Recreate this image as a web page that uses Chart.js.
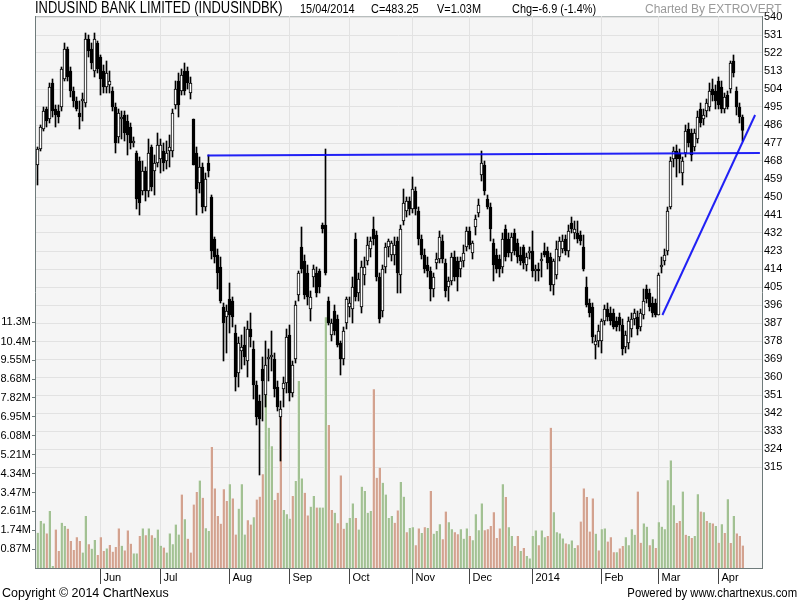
<!DOCTYPE html>
<html>
<head>
<meta charset="utf-8">
<title>INDUSINDBK</title>
<script src="https://cdn.jsdelivr.net/npm/chart.js@4.4.1/dist/chart.umd.min.js"></script>
<style>
  html, body { margin: 0; padding: 0; background: #fff; }
  #wrap { position: relative; width: 800px; height: 600px; overflow: hidden; }
  #wrap canvas { position: absolute; left: 0; top: 0; }
  .txt {
    position: absolute; white-space: nowrap; color: #000;
    font-family: "Liberation Sans", Arial, sans-serif;
    font-size: 13px; line-height: 15px;
    transform-origin: 0 0;
  }
  #title { left: 35px; top: -1px; font-size: 16px; line-height: 18px; transform: scaleX(0.807); }
  .hd { top: 1px; transform: scaleX(0.84); }
  #by { color: #9a9a9a; font-size: 12px; transform: none; top: 2px; }
  #copy { left: 2px; top: 585px; transform: scaleX(0.96); }
  #powered { right: 3px; top: 585px; transform-origin: 100% 0; transform: scaleX(0.87); }
</style>
</head>
<body>
<div id="wrap">
  <canvas id="chart" width="800" height="600"></canvas>
  <div class="txt" id="title">INDUSIND BANK LIMITED (INDUSINDBK)</div>
  <div class="txt hd" style="left:300px">15/04/2014</div>
  <div class="txt hd" style="left:371px">C=483.25</div>
  <div class="txt hd" style="left:437px">V=1.03M</div>
  <div class="txt hd" style="left:512px">Chg=-6.9 (-1.4%)</div>
  <div class="txt" id="by" style="left:645px">Charted By EXTROVERT</div>
  <div class="txt" id="copy">Copyright © 2014 ChartNexus</div>
  <div class="txt" id="powered">Powered by www.chartnexus.com</div>
</div>
<script>
// daily candles, 2 May 2013 .. 15 Apr 2014 (one slot per trading day)
const open = [
  466,474,484,494,489,507,494,493,495,509, 524,513,503,498,492,498,497,529,524,513,
  527,520,513,505,506,503,495,480,489,491, 488,485,477,472,468,453,463,453,475,463,
  467,469,473,468,473,473,496,508,503,513, 513,502,489,472,457,465,445,467,450,429,
  421,415,395,390,399,398,382,362,373,376, 368,384,374,356,348,364,351,369,370,369,
  355,340,354,357,381,352,369,401,425,418, 412,394,410,412,413,436,436,398,381,393,
  389,377,369,387,395,394,429,402,395,411, 418,424,434,431,410,393,415,425,421,421,
  428,411,438,443,448,444,453,443,429,421, 416,413,404,417,419,428,417,405,408,420,
  418,414,418,425,433,422,435,442,461,466, 449,445,427,421,419,415,434,429,422,432,
  427,421,425,416,422,423,413,414,418,423, 423,420,406,411,420,424,429,423,437,432,
  432,431,425,405,397,395,376,378,378,388, 394,392,392,388,390,386,375,377,384,389,
  390,385,391,404,402,397,397,391,415,418, 423,445,469,473,472,462,472,484,482,475,
  479,494,489,493,495,504,503,508,505,494, 501,504,518,503,495,490
];
const high = [
  475,486,495,495,507,509,496,496,515,527, 525,515,505,500,498,502,532,531,527,532,
  528,521,516,518,513,505,497,494,493,493, 491,487,480,473,470,468,465,479,476,471,
  482,479,477,478,481,494,508,512,514,517, 515,510,489,475,470,467,462,471,451,430,
  424,420,397,396,407,400,386,380,381,385, 388,392,378,358,351,370,378,374,383,372,
  358,348,360,384,386,368,398,413,435,421, 416,403,416,415,414,437,474,400,389,396,
  391,378,385,400,400,410,432,412,418,420, 430,430,440,433,412,416,427,429,428,430,
  430,436,454,450,450,460,455,445,431,424, 420,415,412,422,433,431,419,410,422,423,
  420,420,426,435,435,428,441,449,473,468, 451,447,429,424,421,432,436,432,432,434,
  429,425,426,422,425,433,416,417,422,427, 425,422,419,428,430,431,431,436,440,438,
  438,433,431,410,399,397,381,386,389,396, 397,395,394,390,392,389,383,390,392,394,
  393,394,404,406,404,400,399,412,420,424, 445,470,475,476,474,470,486,487,484,484,
  493,497,494,499,507,509,506,510,508,502, 503,518,521,505,497,491
];
const low = [
  456,473,483,485,487,490,485,487,493,508, 508,500,495,493,484,488,495,520,514,510,
  512,501,502,502,502,493,472,477,479,478, 471,474,475,444,441,451,448,450,453,451,
  465,462,463,464,465,470,494,490,501,501, 504,499,466,441,452,442,443,460,419,417,
  404,397,368,372,382,385,353,355,364,366, 360,375,349,336,311,338,345,358,363,350,
  343,318,345,352,348,350,367,398,412,399, 396,388,405,400,402,432,411,386,378,381,
  375,361,366,384,390,387,398,398,392,406, 416,420,426,408,387,390,412,420,418,416,
  402,402,436,440,441,442,441,426,419,412, 410,398,400,414,417,417,400,398,406,408,
  403,410,415,423,424,419,431,440,458,451, 444,428,408,412,410,412,418,420,418,421,
  417,416,414,413,419,410,408,408,410,420, 414,403,401,409,418,422,421,420,432,429,
  427,426,413,395,390,377,369,375,372,386, 388,386,384,383,383,371,372,374,380,386,
  381,383,389,397,393,390,390,391,412,416, 421,444,465,460,462,456,470,475,468,473,
  477,485,486,490,493,498,494,494,492,492, 494,502,510,491,487,478
];
const close = [
  474,485,493,488,505,493,491,490,514,524, 510,503,498,494,490,499,529,523,517,529,
  514,509,505,512,508,495,477,492,490,482, 481,477,478,449,447,463,453,472,455,467,
  476,476,467,472,475,492,504,496,511,503, 507,507,466,454,465,445,459,463,423,420,
  412,398,387,393,391,390,360,377,375,370, 384,380,356,340,339,358,366,370,371,354,
  345,344,357,380,352,366,396,412,414,401, 400,400,414,402,405,434,412,387,387,383,
  376,369,383,399,397,405,400,409,415,415, 426,428,429,410,389,414,425,428,427,426,
  412,434,447,448,444,454,444,429,421,414, 413,404,410,419,430,419,403,408,420,410,
  410,418,422,433,426,427,439,446,467,453, 445,434,416,414,414,429,420,422,430,423,
  420,418,417,420,423,413,414,413,419,421, 417,406,418,424,428,428,423,433,434,434,
  429,428,414,396,392,380,378,383,388,394, 390,388,385,385,386,374,381,388,389,392,
  384,392,398,399,395,392,391,411,416,421, 443,468,473,469,469,468,483,477,471,482,
  490,487,491,497,503,501,498,496,494,500, 495,517,512,495,490.15,483.25
];
// volume in millions
const volume = [
  1.62,2.16,2.05,1.59,2.62,0.09,1.77,0.78,2.08,1.93, 1.81,1.24,0.83,1.42,1.24,0.71,2.39,1.09,0.89,1.29,
  0.60,1.42,0.78,0.90,1.06,0.75,0.97,1.82,1.02,0.81, 1.73,1.12,0.67,0.67,1.47,1.82,1.51,1.82,1.51,1.39,
  1.77,1.02,0.94,0.71,1.59,1.09,2.00,1.54,3.38,2.24, 1.35,0.71,2.92,3.50,4.02,3.23,1.83,1.70,5.56,3.66,
  2.39,2.04,3.62,3.08,3.85,3.20,1.54,2.73,3.85,1.54, 2.20,2.00,2.34,3.15,3.28,4.31,8.06,6.45,5.60,3.13,
  3.46,7.14,2.67,2.47,2.27,3.31,4.00,8.60,4.12,3.46, 2.42,2.82,3.31,2.78,2.78,2.78,11.53,6.58,2.67,2.54,
  2.06,4.26,1.81,2.08,2.30,2.97,2.30,1.77,3.74,3.54, 2.54,2.62,8.22,4.15,4.61,3.92,3.38,2.30,2.39,2.08,
  2.65,3.95,3.28,1.65,1.84,1.87,1.05,1.82,1.61,1.87, 1.84,3.54,1.58,1.70,2.01,1.32,2.60,2.11,1.78,1.65,
  1.55,1.78,1.35,1.82,1.47,1.28,2.47,1.74,2.97,1.74, 1.78,1.93,2.57,1.38,1.82,3.85,3.26,1.88,1.47,1.01,
  1.47,0.78,0.92,0.55,0.44,1.47,1.73,1.05,1.73,1.42, 1.47,6.45,2.57,1.65,1.59,1.36,1.13,1.09,1.27,0.92,
  1.05,2.14,3.66,3.26,1.68,3.20,1.58,0.81,1.78,1.82, 1.22,1.41,0.73,0.73,0.90,1.01,1.41,1.05,1.78,1.53,
  3.52,1.16,2.05,1.90,1.05,1.32,0.92,2.11,1.90,1.78, 4.04,4.95,2.89,2.07,2.16,3.52,1.53,1.47,1.38,1.47,
  3.39,2.60,2.57,2.16,2.08,2.05,1.93,1.16,2.01,1.61, 3.16,1.15,2.39,1.59,1.47,1.03
];
// g = green volume bar, r = red volume bar
const volDir =
  "gggrggrrgg" + "rrrrrggrgg" + "rrrgrrrrgr" + "rrggrgrgrg" + "ggrgggggrg" +
  "rrrrgrggrr" + "rrrrgrrggg" + "rrgrrrgggr" + "rrgggrgggr" + "rggrgggrrg" +
  "rrrgggrggg" + "ggrrrggggr" + "rggrggrrgr" + "grgggrrggr" + "rgggrggggr" +
  "rrrrrgrggr" + "rgrggggrgg" + "rrggggrggg" + "rrrrrrgrgg" + "rrrgrrgggg" +
  "rrggrgrggg" + "gggrrgrgrg" + "grgrgrgrgr" + "grgrrr";

const monthNames = ["Jun", "Jul", "Aug", "Sep", "Oct", "Nov", "Dec", "2014", "Feb", "Mar", "Apr"];
const monthStart = [21, 41, 64, 84, 104, 125, 144, 165, 188, 207, 227];
const priceTicks = [315, 324, 333, 342, 351, 360, 369, 378, 387, 396, 405, 414, 423, 432,
                    441, 450, 459, 468, 477, 486, 495, 504, 513, 522, 531, 540];
const volTicks = [0.87, 1.74, 2.61, 3.47, 4.34, 5.21, 6.08, 6.95, 7.82, 8.68, 9.55, 10.4, 11.3];
const volTickLabels = ["0.87M", "1.74M", "2.61M", "3.47M", "4.34M", "5.21M", "6.08M",
                       "6.95M", "7.82M", "8.68M", "9.55M", "10.4M", "11.3M"];

// hand drawn lines on the chart: [slot, price]
const levelLine = [[56.6, 470.8], [240.8, 472]];
const trendLine = [[208.3, 391], [239.2, 491]];

const GREEN = "#a2c193";
const RED = "#d3a28f";
const AXIS = "#6f7b7b";
const GRID = "#e2e2e2";

Chart.defaults.font.family = '"Liberation Sans", Arial, sans-serif';
Chart.defaults.font.size = 11;
Chart.defaults.color = "#000";

const slots = close.map((_, i) => i);
const wicks = slots.map(i => ({ x: i, y: [low[i], high[i]] }));
const bodies = slots.map(i => ({ x: i, y: [open[i], close[i]] }));
const vols = slots.map(i => ({ x: i, y: volume[i] }));
const toPts = arr => arr.map(([x, y]) => ({ x, y }));

const plotBg = {
  id: "plotBg",
  beforeDraw(chart) {
    const { ctx, chartArea: a } = chart;
    ctx.save();
    ctx.fillStyle = "#f5f5f5";
    ctx.fillRect(a.left, a.top, a.right - a.left, a.bottom - a.top);
    ctx.strokeStyle = "#b8bebe";
    ctx.lineWidth = 1;
    ctx.beginPath();
    ctx.moveTo(a.left, a.top + 0.5);
    ctx.lineTo(a.right, a.top + 0.5);
    ctx.stroke();
    ctx.restore();
  }
};

new Chart(document.getElementById("chart"), {
  type: "bar",
  data: {
    datasets: [
      {
        type: "line", data: toPts(levelLine), yAxisID: "y",
        borderColor: "rgba(10,10,245,0.9)", borderWidth: 2, pointRadius: 0, order: 1
      },
      {
        type: "line", data: toPts(trendLine), yAxisID: "y",
        borderColor: "rgba(10,10,245,0.9)", borderWidth: 2, pointRadius: 0, order: 1
      },
      {
        label: "Body", data: bodies, yAxisID: "y", grouped: false,
        barThickness: 3, borderWidth: 1, borderSkipped: false, borderColor: "#000",
        backgroundColor: ctx => close[ctx.dataIndex] >= open[ctx.dataIndex] ? "#fff" : "#000",
        order: 2
      },
      {
        label: "Range", data: wicks, yAxisID: "y", grouped: false,
        barThickness: 1, backgroundColor: "#000", order: 3
      },
      {
        label: "Volume", data: vols, yAxisID: "yVol", grouped: false,
        barThickness: 3, borderSkipped: false, borderColor: "#fff",
        borderWidth: { left: 1, right: 0, top: 0, bottom: 0 },
        backgroundColor: ctx => volDir[ctx.dataIndex] === "g" ? GREEN : RED,
        order: 4
      }
    ]
  },
  options: {
    responsive: false,
    animation: false,
    devicePixelRatio: 1,
    layout: { padding: { top: 16, left: 0, right: 0, bottom: 0 } },
    plugins: { legend: { display: false }, tooltip: { enabled: false } },
    scales: {
      x: {
        type: "linear", min: -0.8333, max: 241.5, offset: false,
        afterBuildTicks: s => { s.ticks = monthStart.map(v => ({ value: v })); },
        afterFit: s => { s.height = 32; },
        ticks: {
          callback: (v, i) => monthNames[i],
          autoSkip: false, maxRotation: 0, minRotation: 0,
          align: "start", labelOffset: 3, padding: -13,
          font: { size: 11 }
        },
        grid: { color: GRID, tickColor: "#444", tickLength: 16, offset: false },
        border: { color: AXIS }
      },
      y: {
        position: "right", min: 264.5, max: 540.5,
        afterBuildTicks: s => { s.ticks = priceTicks.map(v => ({ value: v })); },
        afterFit: s => { s.width = 38; },
        ticks: { autoSkip: false, padding: 2 },
        grid: { color: GRID, drawTicks: false },
        border: { color: AXIS }
      },
      yVol: {
        position: "left", min: 0, max: 25.39,
        afterBuildTicks: s => { s.ticks = volTicks.map(v => ({ value: v })); },
        afterFit: s => { s.width = 35; },
        ticks: { autoSkip: false, padding: 1, callback: (v, i) => volTickLabels[i] },
        grid: { drawOnChartArea: false, tickLength: 3, tickColor: AXIS },
        border: { color: AXIS }
      }
    }
  },
  plugins: [plotBg]
});
</script>
</body>
</html>
